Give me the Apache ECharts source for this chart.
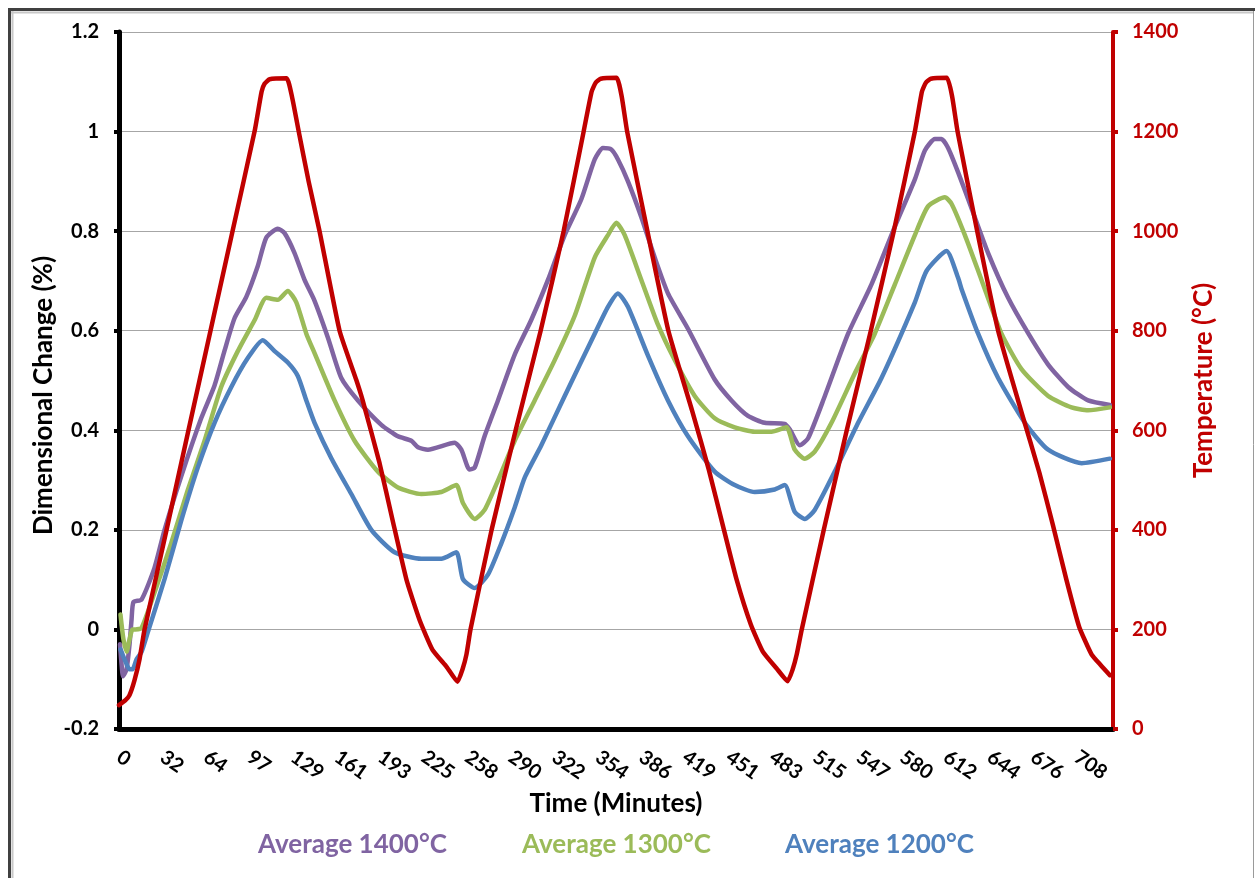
<!DOCTYPE html>
<html><head><meta charset="utf-8">
<script src="https://cdn.jsdelivr.net/npm/echarts@6/dist/echarts.min.js"></script>
<style>html,body{margin:0;padding:0;background:#fff}#c{width:1255px;height:878px}</style>
</head><body><div id="c"></div>
<script>
// x tick labels (minutes)
const xTickLabels = ['0','32','64','97','129','161','193','225','258','290','322','354','386','419','451','483','515','547','580','612','644','676','708'];

// [time (min), dimensional change (%)]
const avg1400 = [[0.7,-0.03],[1.9,-0.07],[3.0,-0.094],[5.6,-0.08],[7.8,-0.03],[9.3,0.02],[10.7,0.055],[16.7,0.06],[26.3,0.124],[33.7,0.2],[46.0,0.307],[60.8,0.424],[70.7,0.49],[78.1,0.56],[85.5,0.625],[94.2,0.668],[102.7,0.73],[109.0,0.787],[117.5,0.805],[122.5,0.796],[129.9,0.756],[137.3,0.702],[144.7,0.66],[154.6,0.586],[164.5,0.505],[176.8,0.46],[194.1,0.411],[206.4,0.388],[216.3,0.379],[221.2,0.366],[228.6,0.361],[248.3,0.375],[253.3,0.361],[259.4,0.321],[263.2,0.325],[270.5,0.388],[280.4,0.46],[292.8,0.552],[305.1,0.622],[317.4,0.702],[329.8,0.792],[342.1,0.864],[352.0,0.944],[358.1,0.967],[364.3,0.964],[369.2,0.944],[376.6,0.9],[386.5,0.828],[396.4,0.747],[406.2,0.675],[421.0,0.604],[440.8,0.502],[453.2,0.46],[465.4,0.429],[477.8,0.415],[492.6,0.413],[496.3,0.402],[503.7,0.37],[509.9,0.384],[522.3,0.469],[539.5,0.594],[556.8,0.693],[574.1,0.809],[588.9,0.904],[596.3,0.962],[603.7,0.985],[608.6,0.985],[613.5,0.967],[620.9,0.918],[630.8,0.846],[643.1,0.756],[657.9,0.666],[672.7,0.595],[687.5,0.532],[702.3,0.487],[717.1,0.46],[733.2,0.451]];

const avg1300 = [[1.1,0.03],[1.9,0.01],[3.3,-0.02],[5.6,-0.045],[7.8,-0.02],[10.0,0.0],[12.2,0.0],[16.7,0.003],[26.3,0.074],[38.6,0.173],[50.9,0.28],[63.3,0.379],[75.6,0.487],[87.9,0.559],[100.3,0.621],[109.0,0.666],[117.5,0.662],[124.9,0.68],[131.2,0.657],[138.6,0.594],[144.7,0.555],[159.5,0.46],[174.3,0.379],[191.6,0.317],[206.4,0.285],[223.7,0.272],[238.5,0.276],[249.6,0.29],[254.5,0.254],[263.2,0.222],[270.5,0.24],[280.4,0.299],[292.8,0.379],[307.6,0.46],[322.4,0.541],[337.2,0.63],[352.0,0.747],[361.8,0.792],[368.0,0.817],[374.2,0.792],[386.5,0.702],[398.8,0.612],[411.2,0.541],[426.0,0.469],[440.8,0.424],[455.6,0.406],[470.4,0.397],[482.8,0.397],[493.9,0.406],[500.0,0.361],[507.4,0.343],[514.8,0.357],[527.2,0.415],[544.4,0.514],[559.2,0.594],[574.1,0.693],[588.9,0.792],[598.7,0.85],[611.1,0.868],[616.0,0.855],[625.9,0.792],[638.2,0.702],[653.0,0.594],[667.8,0.523],[687.5,0.469],[704.8,0.446],[717.1,0.44],[733.2,0.446]];

const avg1200 = [[1.1,-0.04],[2.6,-0.05],[5.6,-0.07],[7.8,-0.08],[10.0,-0.08],[13.0,-0.06],[16.7,-0.045],[21.3,-0.006],[33.7,0.101],[46.0,0.218],[58.3,0.325],[70.7,0.415],[83.1,0.487],[95.3,0.545],[106.4,0.581],[115.1,0.559],[124.9,0.536],[132.3,0.509],[138.6,0.46],[144.7,0.415],[157.1,0.344],[171.9,0.272],[186.7,0.2],[203.9,0.155],[223.7,0.142],[238.5,0.142],[249.6,0.155],[254.5,0.101],[263.2,0.083],[273.0,0.11],[282.9,0.173],[292.8,0.245],[300.2,0.305],[312.5,0.37],[329.8,0.469],[352.0,0.594],[361.8,0.648],[369.2,0.675],[376.6,0.648],[391.4,0.55],[406.2,0.46],[421.0,0.388],[440.8,0.317],[455.6,0.29],[470.4,0.276],[485.2,0.281],[492.6,0.29],[500.0,0.236],[507.4,0.222],[514.8,0.24],[529.6,0.317],[546.9,0.415],[564.2,0.505],[588.9,0.657],[597.5,0.72],[612.3,0.76],[620.9,0.706],[623.4,0.684],[635.7,0.594],[650.5,0.505],[670.3,0.415],[687.5,0.361],[712.3,0.334],[733.2,0.343]];

// [time (min), temperature (°C)]
const temperature = [[0,48],[4.8,58],[7.8,68],[11.5,98],[15.2,140],[18.9,200],[35.2,400],[51.4,600],[67.7,800],[84.0,1000],[100.3,1200],[105.5,1280],[107.7,1296],[111.4,1305],[124.0,1307],[128.0,1270],[133.0,1200],[140.3,1100],[148.4,1000],[163.2,800],[175.6,701],[180.2,661],[192.8,534],[202.4,420],[212.8,299],[222.4,219],[232.0,159],[242.4,125],[250.5,95],[254.2,120],[257.1,150],[260.1,200],[275.7,400],[293.5,600],[312.0,800],[329.0,1000],[343.8,1200],[349.7,1280],[352.7,1298],[356.4,1306],[368.2,1308],[372.0,1270],[376.0,1200],[391.0,1000],[406.5,800],[424.0,640],[436.5,520],[446.7,410],[457.0,300],[467.5,210],[476.5,155],[486.5,122],[494.8,96],[498.5,120],[501.5,150],[505.2,200],[521.5,400],[538.5,600],[556.3,800],[573.3,1000],[588.9,1200],[594.1,1280],[597.0,1298],[600.7,1306],[612.6,1308],[616.5,1270],[620.5,1200],[635.0,1000],[650.5,800],[668.5,630],[681.0,515],[691.0,410],[701.0,300],[710.5,205],[719.6,150],[726.5,128],[733.2,108]];

const seriesNames = ['Average 1400°C','Average 1300°C','Average 1200°C'];
const seriesColors = ['#8064A2','#9BBB59','#4F81BD'];
const tempColor = '#C00000';
const FONT = 'Lato';

const chart = echarts.init(document.getElementById('c'), null, {renderer:'canvas'});
const lineSeries = (name, data, color, yIdx) => ({
  name, type:'line', data, yAxisIndex:yIdx, showSymbol:false, symbol:'none', smooth:0.2,
  lineStyle:{color, width:4.5, cap:'round', join:'round'}, itemStyle:{color}
});
chart.setOption({
  animation:false,
  backgroundColor:'#ffffff',
  grid:{left:119, right:142, top:32, bottom:149, containLabel:false},
  xAxis:{
    type:'value', min:0, max:735.5, interval:32.2,
    axisLine:{onZero:false, lineStyle:{color:'#000', width:5}},
    axisTick:{show:false},
    splitLine:{show:false},
    axisLabel:{rotate:-35, margin:26, color:'#000', fontFamily:FONT, fontWeight:'bold', fontSize:20,
      formatter:(v,i)=> (xTickLabels[i] !== undefined ? xTickLabels[i] : '')},
    name:'Time (Minutes)', nameLocation:'middle', nameGap:62,
    nameTextStyle:{color:'#000', fontFamily:FONT, fontWeight:'bold', fontSize:26}
  },
  yAxis:[{
    type:'value', min:-0.2, max:1.2, interval:0.2, position:'left',
    axisLine:{show:true, onZero:false, lineStyle:{color:'#000', width:5}},
    axisTick:{show:true, length:5, lineStyle:{color:'#000', width:4}},
    splitLine:{show:true, lineStyle:{color:'#a6a6a6', width:1}},
    axisLabel:{margin:20, color:'#000', fontFamily:FONT, fontWeight:'bold', fontSize:20},
    name:'Dimensional Change (%)', nameLocation:'middle', nameGap:62, nameMoveOverlap:false,
    nameTextStyle:{color:'#000', fontFamily:FONT, fontWeight:'bold', fontSize:26, padding:[0,30,0,0]}
  },{
    type:'value', min:0, max:1400, interval:200, position:'right',
    axisLine:{show:true, onZero:false, lineStyle:{color:tempColor, width:4}},
    axisTick:{show:true, length:5, lineStyle:{color:tempColor, width:4}},
    splitLine:{show:false},
    axisLabel:{margin:19, color:tempColor, fontFamily:FONT, fontWeight:'bold', fontSize:20,
      formatter:(v)=> String(v)},
    name:'Temperature (°C)', nameLocation:'middle', nameGap:78,
    nameTextStyle:{color:tempColor, fontFamily:FONT, fontWeight:'bold', fontSize:26}
  }],
  legend:[0,1,2].map(i=>({
    left:[248,512,775][i], top:827, icon:'none', itemWidth:0, itemHeight:0, selectedMode:false,
    data:[{name:seriesNames[i], textStyle:{color:seriesColors[i]}}],
    textStyle:{fontFamily:FONT, fontWeight:'bold', fontSize:26}
  })),
  graphic:[
    {type:'line', shape:{x1:8, y1:9.5, x2:1255, y2:9.5}, style:{stroke:'#404040', lineWidth:3}, silent:true},
    {type:'line', shape:{x1:9.5, y1:8, x2:9.5, y2:878}, style:{stroke:'#404040', lineWidth:3}, silent:true},
    {type:'line', shape:{x1:11, y1:12.5, x2:1253, y2:12.5}, style:{stroke:'#c8c8c8', lineWidth:2}, silent:true},
    {type:'line', shape:{x1:12.5, y1:11, x2:12.5, y2:878}, style:{stroke:'#c8c8c8', lineWidth:2}, silent:true},
    {type:'line', shape:{x1:1253.5, y1:11, x2:1253.5, y2:878}, style:{stroke:'#9a9a9a', lineWidth:1}, silent:true}
  ],
  series:[
    lineSeries(seriesNames[0], avg1400, seriesColors[0], 0),
    lineSeries(seriesNames[1], avg1300, seriesColors[1], 0),
    lineSeries(seriesNames[2], avg1200, seriesColors[2], 0),
    Object.assign(lineSeries('Temperature', temperature, tempColor, 1), {smooth:0.15})
  ]
});
</script></body></html>
